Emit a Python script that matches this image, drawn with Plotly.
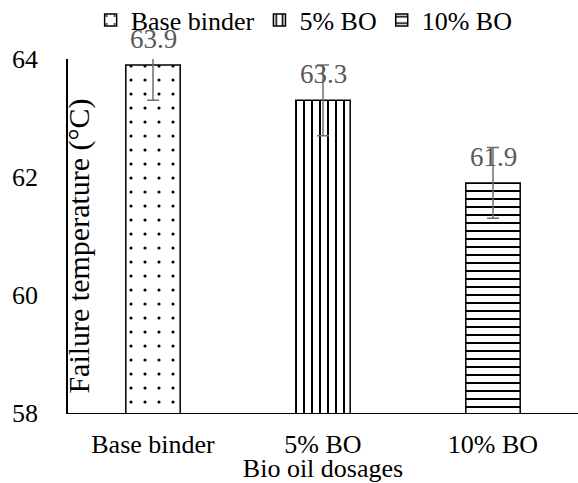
import plotly.graph_objects as go

categories = ["Base binder", "5% BO", "10% BO"]
values = [63.9, 63.3, 61.9]
errors = [0.6, 0.6, 0.6]
patterns = [".", "|", "-"]
y_ticks = [58, 60, 62, 64]

FONT = "Liberation Serif"

fig = go.Figure()
for cat, val, err, pat in zip(categories, values, errors, patterns):
    fig.add_trace(go.Bar(
        x=[cat], y=[val], name=cat,
        width=0.32,
        marker=dict(
            color="white",
            line=dict(color="black", width=1.5),
            pattern=dict(shape=pat, fgcolor="black", bgcolor="white",
                         size=14 if pat == "." else 8,
                         solidity=0.04 if pat == "." else 0.25),
        ),
        error_y=dict(type="data", array=[err], color="#6f6f6f",
                     thickness=1.5, width=6),
    ))

for cat, val in zip(categories, values):
    fig.add_annotation(x=cat, y=val, text=f"{val:.1f}", showarrow=False,
                       yshift=26, font=dict(family=FONT, size=27, color="#595959"))

fig.add_annotation(xref="paper", yref="paper", x=0, y=0.47, xshift=-8,
                   xanchor="left", yanchor="middle", textangle=-90,
                   text="Failure temperature (°C)", showarrow=False,
                   font=dict(family=FONT, size=30, color="black"))

fig.update_layout(
    template="none",
    width=578, height=483,
    margin=dict(l=68, r=0, t=59, b=70, autoexpand=False),
    font=dict(family=FONT, size=26, color="black"),
    legend=dict(orientation="h", x=0.463, xanchor="center", y=1.11,
                yanchor="middle", font=dict(family=FONT, size=26, color="black")),
    xaxis=dict(type="category", categoryorder="array", categoryarray=categories,
               range=[-0.5, 2.5], showline=True, linecolor="black", linewidth=1,
               ticks="outside", ticklen=8, tickcolor="rgba(0,0,0,0)",
               showgrid=False, zeroline=False,
               tickfont=dict(family=FONT, size=26, color="black"),
               title=dict(text="Bio oil dosages", standoff=0,
                          font=dict(family=FONT, size=26, color="black"))),
    yaxis=dict(range=[58, 64], tickvals=y_ticks, showline=True,
               linecolor="black", linewidth=1.5,
               ticks="outside", ticklen=23, tickcolor="rgba(0,0,0,0)",
               showgrid=False, zeroline=False,
               tickfont=dict(family=FONT, size=26, color="black")),
)

fig.write_html("out.html", post_script="document.body.style.margin='0';",
               config={"displayModeBar": False})
